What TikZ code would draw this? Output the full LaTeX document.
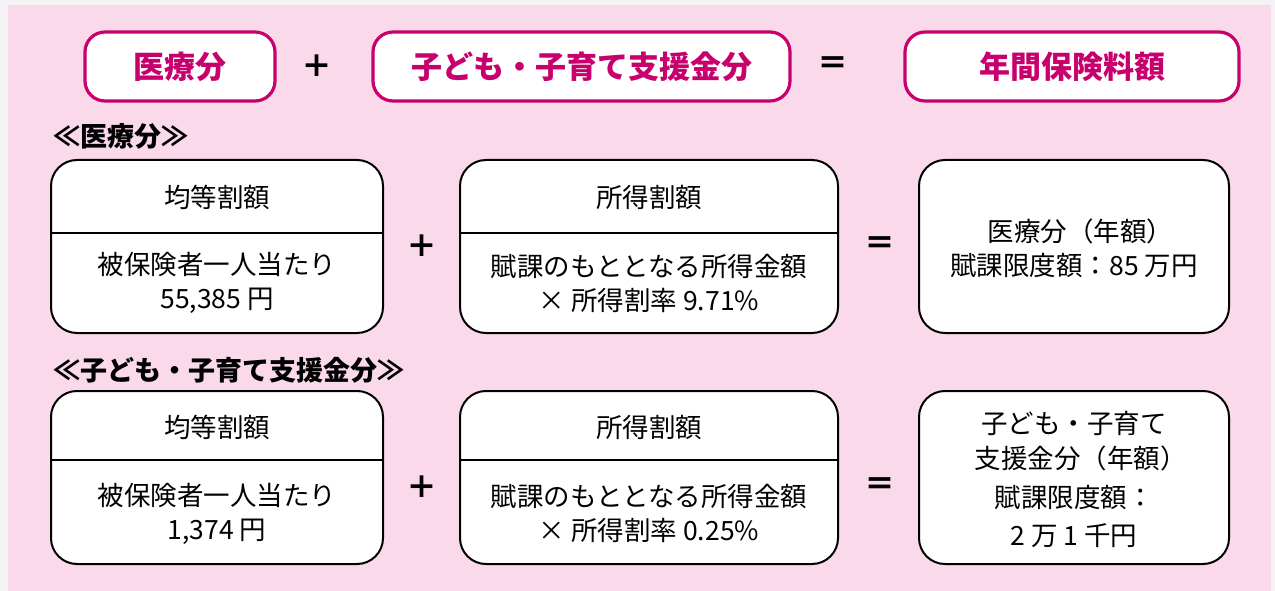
\documentclass[tikz,border=0pt]{standalone}
\usepackage{fontspec}
\setmainfont{Noto Sans CJK JP}
\definecolor{mag}{HTML}{C8006E}
\definecolor{pinkbg}{HTML}{FADAEA}
\definecolor{edgegray}{HTML}{F3F3F3}
\begin{document}
\begin{tikzpicture}[x=1pt,y=-1pt,
 titlebox/.style={draw=mag,line width=3.2pt,rounded corners=20pt,fill=white,inner sep=0pt},
 calcbox/.style={draw=black,line width=2pt,rounded corners=26pt,fill=white,inner sep=0pt},
 titletxt/.style={text=mag,font=\fontsize{31}{36}\selectfont\bfseries},
 optxt/.style={font=\fontsize{31}{36}\selectfont\bfseries,inner sep=0pt},
 heading/.style={font=\fontsize{27}{32}\selectfont\bfseries,anchor=west,inner sep=0pt},
 bodytxt/.style={font=\fontsize{26.5}{34}\selectfont,align=center,inner sep=0pt},
 divider/.style={draw=black,line width=2pt}]
\useasboundingbox (0,0) rectangle (1275,591);
\fill[edgegray] (0,0) rectangle (1275,591);
\fill[pinkbg] (8,5) rectangle (1271,591);
% title row
\node[titlebox,minimum width=190pt,minimum height=69pt] (t1) at (180,66.5) {};
\node[titletxt] (t1txt) at (t1.center) {医療分};
\node[optxt] (tplus) at (317,66) {＋};
\node[titlebox,minimum width=417pt,minimum height=69pt] (t2) at (581.5,66.5) {};
\node[titletxt] (t2txt) at (t2.center) {子ども・子育て支援金分};
\node[optxt] (teq) at (833,66) {＝};
\node[titlebox,minimum width=334pt,minimum height=69pt] (t3) at (1072,66.5) {};
\node[titletxt] (t3txt) at (t3.center) {年間保険料額};
% section 1
\node[heading] (h1) at (53,136) {≪医療分≫};
\node[calcbox,minimum width=332pt,minimum height=173pt] (a1) at (217,246.5) {};
\draw[divider] (a1.west |- 0,233) -- (a1.east |- 0,233);
\node[bodytxt] (a1top) at (217,197) {均等割額};
\node[bodytxt] (a1bot) at (217,283) {被保険者一人当たり\\55,385 円};
\node[optxt] (p1) at (422,246) {＋};
\node[calcbox,minimum width=378pt,minimum height=173pt] (b1) at (649,246.5) {};
\draw[divider] (b1.west |- 0,233) -- (b1.east |- 0,233);
\node[bodytxt] (b1top) at (649,197) {所得割額};
\node[bodytxt] (b1bot) at (649,283) {賦課のもととなる所得金額\\× 所得割率 9.71\%};
\node[optxt] (e1) at (880,246) {＝};
\node[calcbox,minimum width=310pt,minimum height=173pt] (c1) at (1074,246.5) {};
\node[bodytxt] (c1txt) at (1074,248) {医療分（年額）\kern-0.5em\\賦課限度額：85 万円};
% section 2
\node[heading] (h2) at (53,370) {≪子ども・子育て支援金分≫};
\node[calcbox,minimum width=332pt,minimum height=173pt] (a2) at (217,477.5) {};
\draw[divider] (a2.west |- 0,460) -- (a2.east |- 0,460);
\node[bodytxt] (a2top) at (217,427) {均等割額};
\node[bodytxt] (a2bot) at (217,513.5) {被保険者一人当たり\\1,374 円};
\node[optxt] (p2) at (422,487) {＋};
\node[calcbox,minimum width=378pt,minimum height=173pt] (b2) at (649,477.5) {};
\draw[divider] (b2.west |- 0,460) -- (b2.east |- 0,460);
\node[bodytxt] (b2top) at (649,427) {所得割額};
\node[bodytxt] (b2bot) at (649,513.5) {賦課のもととなる所得金額\\× 所得割率 0.25\%};
\node[optxt] (e2) at (880,487) {＝};
\node[calcbox,minimum width=310pt,minimum height=173pt] (c2) at (1074,477.5) {};
\node[bodytxt,font=\fontsize{26.5}{35}\selectfont] (c2a) at (1074,441.5) {子ども・子育て\\支援金分（年額）\kern-0.5em};
\node[bodytxt,font=\fontsize{26.5}{38}\selectfont] (c2b) at (1074,516) {賦課限度額：\\2 万 1 千円};
\end{tikzpicture}
\end{document}
